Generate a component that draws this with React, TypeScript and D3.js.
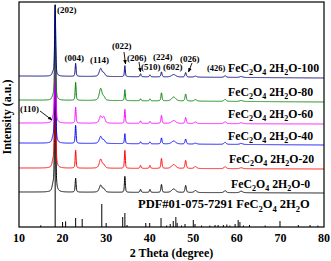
import React from "react";
import * as d3 from "d3";

// ---- data ----
const xTicks = [10, 20, 30, 40, 50, 60, 70, 80];

// peak positions (2θ, degrees) shared by every sample pattern
const peakPos = [17.8, 18.3, 23.0, 28.75, 29.5, 34.3, 37.9, 40.05, 42.7, 45.5, 48.25, 50.5, 57.3, 61.0];
// peak FWHM (degrees)
const peakWidth = [0.5, 0.28, 0.25, 0.75, 0.6, 0.25, 0.3, 0.3, 0.3, 1.1, 0.35, 0.7, 0.6, 0.8];

const seriesNames = ["FeC2O4 2H2O-0", "FeC2O4 2H2O-20", "FeC2O4 2H2O-40", "FeC2O4 2H2O-60", "FeC2O4 2H2O-80", "FeC2O4 2H2O-100"];
const seriesSuffix = ["-0", "-20", "-40", "-60", "-80", "-100"];
// baseline level (intensity, a.u.) at 10° and at 80°
const baseStart = [35, 59, 84, 104, 127, 151];
const baseEnd = [34, 58, 82, 103, 125, 149];
// peak heights per sample, in the order of peakPos
const heights0 = [5, 150, 14, 7, 3, 16, 3, 3, 8, 3.5, 7, 2, 2, 1.5];
const heights20 = [5, 140, 18, 9, 3, 18, 3, 3, 10, 4, 8, 2, 2, 1];
const heights40 = [4, 125, 18, 7, 3, 10, 2, 2, 6, 3, 5, 1, 2, 1];
const heights60 = [4, 110, 16, 7, 6, 14, 2.5, 2, 8, 3, 6, 1.5, 2, 1];
const heights80 = [3, 95, 18, 12, 3, 11, 2, 2, 8, 4, 7, 1.5, 2, 1];
const heights100 = [3, 71, 13, 8, 3, 11, 3, 2, 5, 2.5, 4.5, 1, 1.5, 1];
const seriesHeights = [heights0, heights20, heights40, heights60, heights80, heights100];

// PDF#01-075-7291 reference sticks
const stickPos = [15.0, 18.3, 20.0, 20.7, 23.0, 24.5, 29.0, 30.0, 33.8, 34.3, 34.8, 39.1, 40.0, 42.6, 43.9, 44.7, 45.4, 46.0, 46.3, 47.3, 48.1, 50.0, 50.4, 51.9, 53.8, 55.0, 55.7, 56.9, 57.7, 58.4, 59.6, 60.3, 60.7, 61.5, 62.9, 66.5, 69.9, 74.1, 76.8, 78.6];
const stickHeight = [1.7, 120, 5, 5.7, 9, 8, 23, 4, 10, 14, 2, 4, 4, 9, 1.5, 3, 6, 10, 4, 1.5, 3, 7, 3, 1.5, 1.5, 2, 2, 2, 2.5, 1.5, 3, 7, 5, 1.5, 2, 1.5, 6, 2, 2, 1.5];

const peakLabels = ["(202)", "(004)", "(114)", "(022)", "(206)", "(510)", "(224)", "(602)", "(026)", "(426)", "(110)"];

// ---- layout / style ----
const W = 331, H = 261;
const L = 19, R = 324, T = 2, B = 227;
const colors = ["#000000", "#ff0000", "#0000ff", "#ff00ff", "#008000", "#00007f"];
const labelLayout = [
  { x: 231, y: 188 },
  { x: 229, y: 163 },
  { x: 228, y: 140 },
  { x: 228, y: 118 },
  { x: 228, y: 96 },
  { x: 228, y: 72 },
];
const peakLabelLayout = [
  { x: 57, y: 13, s: 9 },
  { x: 64.5, y: 61, s: 9 },
  { x: 90, y: 63, s: 9 },
  { x: 112, y: 49, s: 9 },
  { x: 127, y: 61, s: 9 },
  { x: 141, y: 70, s: 9 },
  { x: 153, y: 60, s: 9 },
  { x: 163, y: 70, s: 9 },
  { x: 180, y: 62, s: 9 },
  { x: 207, y: 71, s: 8.5 },
  { x: 20, y: 112, s: 9 },
];
const arrows = [
  { x1: 124, y1: 52, x2: 125.5, y2: 64 },
  { x1: 139, y1: 62, x2: 140.5, y2: 72 },
  { x1: 192, y1: 63, x2: 188.5, y2: 72 },
  { x1: 40, y1: 111, x2: 52, y2: 120 },
];

const FONT = "'Liberation Serif', 'Times New Roman', serif";

function Formula({ x, y, prefix, suffix, size }: { x: number; y: number; prefix: string; suffix: string; size: number }) {
  const sub = size * 0.68;
  const dy = size * 0.28;
  return (
    <text x={x} y={y} fontFamily={FONT} fontWeight="bold" fontSize={size} fill="#000">
      <tspan>{prefix}FeC</tspan>
      <tspan fontSize={sub} dy={dy}>2</tspan>
      <tspan dy={-dy}>O</tspan>
      <tspan fontSize={sub} dy={dy}>4</tspan>
      <tspan dy={-dy}> 2H</tspan>
      <tspan fontSize={sub} dy={dy}>2</tspan>
      <tspan dy={-dy}>O{suffix}</tspan>
    </text>
  );
}

export default function App() {
  const x = d3.scaleLinear().domain([10, 80]).range([L, R]);
  const y = d3.scaleLinear().domain([0, 225]).range([B, T]);

  const grid = d3.range(10, 80.0001, 0.02);
  const curves = seriesHeights.map((hs, si) => {
    const pts: [number, number][] = grid.map((t) => {
      const base = baseStart[si] + ((baseEnd[si] - baseStart[si]) * (t - 10)) / 70;
      let v = base;
      for (let k = 0; k < peakPos.length; k++) {
        const g = peakWidth[k] / 2;
        const d = t - peakPos[k];
        const lor = (g * g) / (d * d + g * g);
        const gau = Math.exp((-4 * Math.LN2 * d * d) / (peakWidth[k] * peakWidth[k]));
        v += hs[k] * (0.5 * lor + 0.5 * gau);
      }
      return [t, v];
    });
    return pts;
  });
  const line = d3
    .line<[number, number]>()
    .x((d) => x(d[0]))
    .y((d) => y(d[1]));

  return (
    <svg width={W} height={H} style={{ position: "absolute", left: 0, top: 0, background: "#fff" }}>
      <defs>
        <clipPath id="plot">
          <rect x={L} y={T} width={R - L} height={B - T} />
        </clipPath>
        <marker id="ah" viewBox="0 0 10 10" refX="9" refY="5" markerWidth="5" markerHeight="5" orient="auto">
          <path d="M0,1 L10,5 L0,9 z" fill="#000" />
        </marker>
      </defs>
      <rect x={0} y={0} width={W} height={H} fill="#fff" />
      <g clipPath="url(#plot)">
        {stickPos.map((p, i) => (
          <line key={i} x1={x(p)} x2={x(p)} y1={y(0)} y2={y(stickHeight[i])} stroke="#000" strokeWidth={1} />
        ))}
        {curves.map((c, i) => (
          <path key={seriesNames[i]} d={line(c) || ""} fill="none" stroke={colors[i]} strokeWidth={1} />
        ))}
      </g>
      <rect x={L} y={T} width={R - L} height={B - T} fill="none" stroke="#000" strokeWidth={1.2} />
      {xTicks.map((t) => (
        <text key={t} x={x(t)} y={242} textAnchor="middle" fontFamily={FONT} fontWeight="bold" fontSize={12}>
          {t}
        </text>
      ))}
      <text x={(L + R) / 2} y={257} textAnchor="middle" fontFamily={FONT} fontWeight="bold" fontSize={12}>
        2 Theta (degree)
      </text>
      <text
        transform={`translate(11, ${117}) rotate(-90)`}
        textAnchor="middle"
        fontFamily={FONT}
        fontWeight="bold"
        fontSize={12}
      >
        Intensity (a.u.)
      </text>
      {seriesSuffix.map((s, i) => (
        <Formula key={s} x={labelLayout[i].x} y={labelLayout[i].y} prefix="" suffix={s} size={11.8} />
      ))}
      <Formula x={138} y={208} prefix="PDF#01-075-7291 " suffix="" size={12.5} />
      {peakLabels.map((lb, i) => (
        <text key={lb} x={peakLabelLayout[i].x} y={peakLabelLayout[i].y} fontFamily={FONT} fontWeight="bold" fontSize={peakLabelLayout[i].s}>
          {lb}
        </text>
      ))}
      {arrows.map((a, i) => (
        <line key={i} x1={a.x1} y1={a.y1} x2={a.x2} y2={a.y2} stroke="#000" strokeWidth={0.9} markerEnd="url(#ah)" />
      ))}
    </svg>
  );
}
